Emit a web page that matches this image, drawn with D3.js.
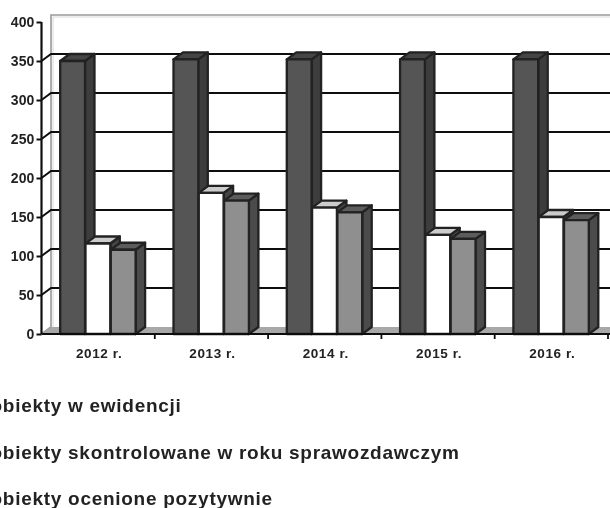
<!DOCTYPE html>
<html><head><meta charset="utf-8">
<script src="https://cdn.jsdelivr.net/npm/d3@7"></script>
<style>html,body{margin:0;padding:0;background:#fff;overflow:hidden}svg{display:block}text{font-family:"Liberation Sans",Arial,sans-serif;font-weight:bold;fill:#222}</style>
</head><body><svg id="c" width="610" height="508"></svg>
<script>
const years = ["2012 r.","2013 r.","2014 r.","2015 r.","2016 r."];
const seriesNames = ["obiekty w ewidencji","obiekty skontrolowane w roku sprawozdawczym","obiekty ocenione pozytywnie"];
const evidence = [350,352,352,352,352];
const inspected = [116,181,162,127,150];
const positive = [108,171,156,122,146];
const yTicks = [0,50,100,150,200,250,300,350,400];

const svg = d3.select("#c");
const defs = svg.append("defs");
defs.append("filter").attr("id","scan").attr("x","-5%").attr("y","-5%").attr("width","110%").attr("height","110%")
  .append("feGaussianBlur").attr("stdDeviation",0.5);
const g = svg.append("g").attr("filter","url(#scan)");

const x = d3.scaleBand().domain(years).range([41.5,608]).paddingInner(0.33).paddingOuter(0.165);
const y = d3.scaleLinear().domain([0,400]).range([334,22]);
const sub = d3.scaleBand().domain(d3.range(3)).range([0,x.bandwidth()]);
const dx = 9.5, dy = -7;

// walls
g.append("path").attr("d",`M${41.5},${y(0)}L${41.5+dx},${y(0)+dy}V${y(400)+dy}H610`)
  .attr("fill","none").attr("stroke","#999").attr("stroke-width",1.6);
g.append("path").attr("d",`M${41.5+dx+2},${y(0)+dy}V${y(400)+dy+2}H610`).attr("stroke","#d8d8d8").attr("fill","none");
// floor
g.append("path").attr("d",`M41.5,${y(0)}L${41.5+dx},${y(0)+dy}H610V${y(0)}Z`).attr("fill","#a8a8a8");
// gridlines
yTicks.filter(t=>t>0&&t<400).forEach(t=>{
  g.append("path").attr("d",`M41.5,${y(t)}L${41.5+dx},${y(t)+dy}H610`)
    .attr("fill","none").attr("stroke","#111").attr("stroke-width",2);
});

// bars
const series = [
  {values:evidence,front:"#555",side:"#3e3e3e",top:"#444"},
  {values:inspected,front:"#fff",side:"#444",top:"#ccc"},
  {values:positive,front:"#8f8f8f",side:"#4c4c4c",top:"#5c5c5c"}
];
years.forEach((yr,i)=>{
  series.forEach((s,j)=>{
    const x0 = x(yr)+sub(j), w = sub.bandwidth()-0.5, v = s.values[i];
    const bar = g.append("g").attr("stroke","#222").attr("stroke-width",2.3).attr("stroke-linejoin","round");
    bar.append("path").attr("d",`M${x0+w},${y(v)}l${dx},${dy}V${y(0)+dy}l${-dx},${-dy}Z`).attr("fill",s.side);
    bar.append("path").attr("d",`M${x0},${y(v)}l${dx},${dy}h${w}l${-dx},${-dy}Z`).attr("fill",s.top);
    bar.append("rect").attr("x",x0).attr("y",y(v)).attr("width",w).attr("height",y(0)-y(v)).attr("fill",s.front);
  });
});

// axes
const yAxis = d3.axisLeft(y).tickValues(yTicks).tickSize(5).tickPadding(2);
const ya = g.append("g").attr("transform","translate(41.5,0)").call(yAxis);
ya.selectAll("path").attr("stroke","#111").attr("stroke-width",2.2).attr("d",`M0,${y(400)}V${y(0)}`);
ya.selectAll("line").attr("stroke","#111").attr("stroke-width",2);
ya.selectAll("text").style("font-size","14px").style("letter-spacing","0.1px").style("font-family",'"Liberation Sans"').style("font-weight","bold").attr("fill","#222");

const xb = d3.scaleBand().domain(years).range([41.5,608]);
g.append("path").attr("d",`M41.5,${y(0)}H610`).attr("stroke","#111").attr("stroke-width",2.2);
xb.domain().forEach((d,i)=>{
  g.append("line").attr("x1",xb(d)+xb.step()).attr("x2",xb(d)+xb.step()).attr("y1",y(0)).attr("y2",y(0)+5).attr("stroke","#111").attr("stroke-width",1.8);
  g.append("text").attr("x",xb(d)+xb.bandwidth()/2+1).attr("y",357.5).attr("text-anchor","middle").style("font-size","13.5px").style("letter-spacing","0.6px").text(d);
});

// legend text (clipped on the left as in the reference)
const legendY = d3.scalePoint().domain(seriesNames).range([412,505]);
seriesNames.forEach(n=>{
  g.append("text").attr("x",-9.5).attr("y",legendY(n)).style("font-size","19px").style("letter-spacing","0.72px").text(n);
});
</script></body></html>
